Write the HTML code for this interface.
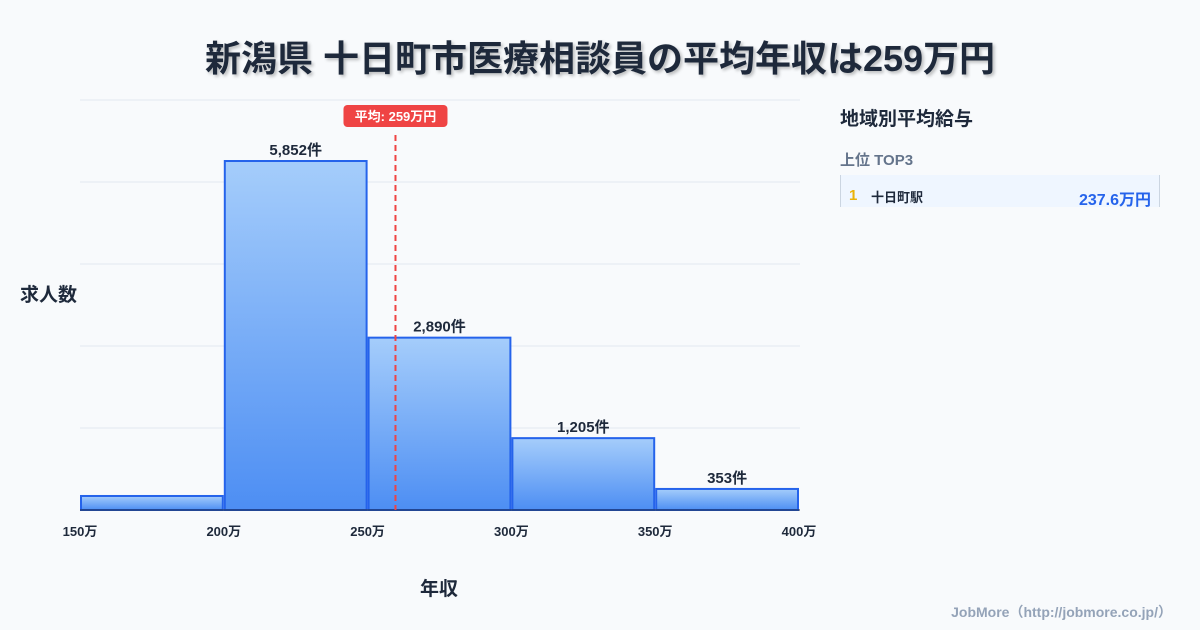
<!DOCTYPE html>
<html><head><meta charset="utf-8"><style>
body{margin:0;width:1200px;height:630px;background:#f8fafc;font-family:"Liberation Sans","Noto Sans CJK JP",sans-serif;overflow:hidden;position:relative}
.t{position:absolute}
</style></head><body>
<div class="t" style="left:0;width:1200px;top:30px;text-align:center;font-size:36px;font-weight:700;color:#1e293b;text-shadow:2px 2px 3px rgba(0,0,0,0.25)">新潟県 十日町市医療相談員の平均年収は259万円</div>
<svg id="chart" width="1200" height="630" style="position:absolute;left:0;top:0">
<defs><linearGradient id="g" x1="0" y1="0" x2="0" y2="1"><stop offset="0" stop-color="#a5cdfb"/><stop offset="1" stop-color="#4d8ef3"/></linearGradient></defs>
</svg>
<div class="t" style="left:20px;top:280px;font-size:19px;font-weight:700;color:#1e293b">求人数</div>
<div class="t" style="left:420px;top:574px;font-size:19px;font-weight:700;color:#1e293b">年収</div>
<div class="t" style="left:840px;top:104px;font-size:19px;font-weight:700;color:#1e293b">地域別平均給与</div>
<div class="t" style="left:840px;top:149px;font-size:15px;font-weight:700;color:#64748b">上位 TOP3</div>
<div class="t" style="left:840px;top:175px;width:320px;height:32px;background:#eff6ff;border-left:1px solid #cbd5e1;border-right:1px solid #cbd5e1;box-sizing:border-box">
<span style="position:absolute;left:8px;top:12px;font-size:15px;font-weight:700;color:#eab308">1</span>
<span style="position:absolute;left:30px;top:12px;font-size:13px;font-weight:700;color:#1e293b">十日町駅</span>
<span style="position:absolute;right:8px;top:11px;font-size:16px;font-weight:700;color:#2563eb">237.6万円</span></div>
<div class="t" style="right:28px;top:602px;font-size:14px;font-weight:700;color:#94a3b8">JobMore（http://jobmore.co.jp/）</div>
<script>
const binStarts=[150,200,250,300,350];
const binEnds=[200,250,300,350,400];
const counts=[235,5852,2890,1205,353];
const labels=["","5,852件","2,890件","1,205件","353件"];
const xTicks=[150,200,250,300,350,400];
const meanValue=259;
const yMax=6875;
const svg=document.getElementById('chart');
const NS='http://www.w3.org/2000/svg';
const X=v=>80+(v-150)*(719/250);
const Y=v=>510-v*(410/yMax);
function mk(t,a){const e=document.createElementNS(NS,t);for(const k in a)e.setAttribute(k,a[k]);svg.appendChild(e);return e;}
for(let i=0;i<=5;i++){const y=Y(yMax*i/5);const l=mk('line',{x1:80,x2:800,y1:y,y2:y,stroke:'#e2e8f0','stroke-width':1});

}
counts.forEach((c,i)=>{const x0=X(binStarts[i])+1,x1=X(binEnds[i])-1;
const r=mk('rect',{x:x0,y:Y(c),width:x1-x0,height:510-Y(c),fill:'url(#g)',stroke:'#2563eb','stroke-width':2});


if(labels[i]){const t=mk('text',{x:(x0+x1)/2,y:Y(c)-6,'text-anchor':'middle','font-size':15,'font-weight':700,fill:'#1e293b'});t.textContent=labels[i];

}});
const ax=mk('line',{x1:80,x2:800,y1:510,y2:510,stroke:'#1e293b','stroke-width':1});


xTicks.forEach(v=>{const t=mk('text',{x:X(v),y:536,'text-anchor':'middle','font-size':13,'font-weight':700,fill:'#1e293b'});t.textContent=v+'万';

});
const mx=X(meanValue)+2;
const ml=mk('line',{x1:mx,x2:mx,y1:135,y2:510,stroke:'#ef4444','stroke-width':2,'stroke-dasharray':'6,4'});


const mb=mk('rect',{x:mx-52,y:105,width:104,height:22,rx:4,fill:'#ef4444'});


const mt=mk('text',{x:mx,y:121,'text-anchor':'middle','font-size':13,'font-weight':700,fill:'#fff'});mt.textContent='平均: '+meanValue+'万円';


</script>
</body></html>
